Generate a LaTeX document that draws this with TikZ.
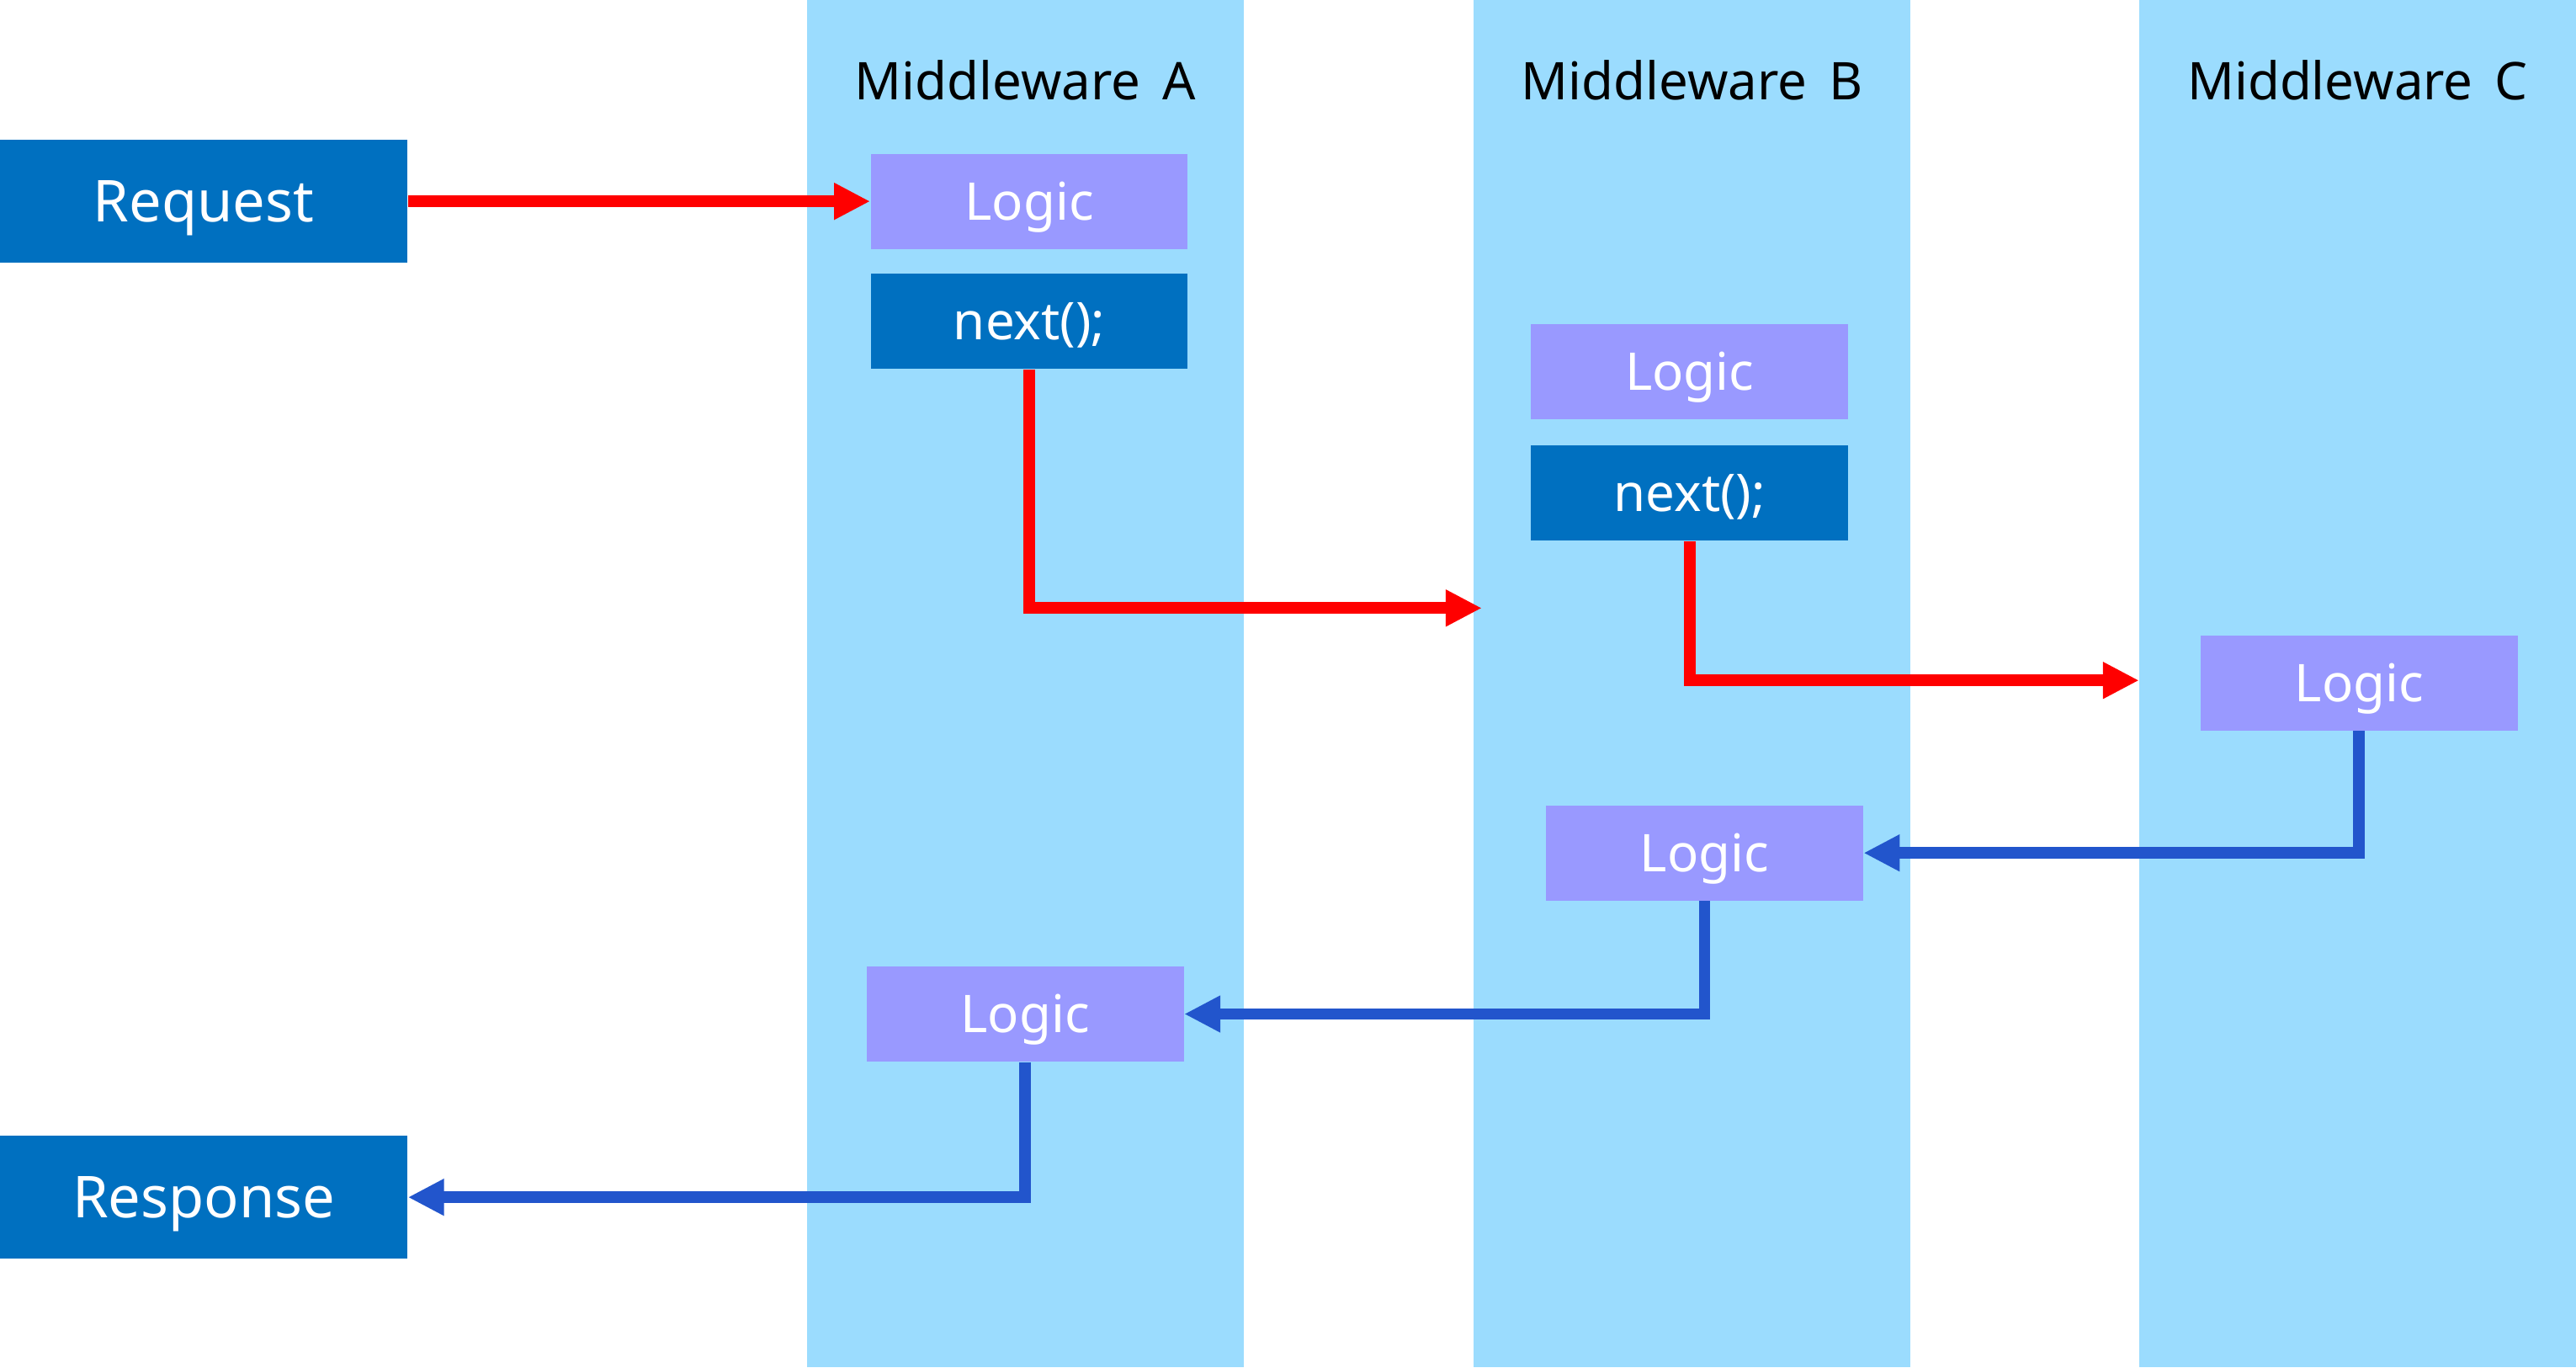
\documentclass[tikz,border=0pt]{standalone}
\usepackage{fontspec}
\setmainfont{Noto Sans}
\usetikzlibrary{arrows.meta}

\definecolor{lane}{HTML}{9BDCFE}
\definecolor{darkbox}{HTML}{0070C0}
\definecolor{logicbox}{HTML}{9999FF}
\definecolor{reqred}{HTML}{FF0000}
\definecolor{resblue}{HTML}{2255CC}

\begin{document}
\begin{tikzpicture}[x=0.02cm,y=-0.02cm,
    io/.style={fill=darkbox,text=white,minimum width=4.96cm,minimum height=1.5cm,
      text height=14.3pt,text depth=0pt,font=\fontsize{20}{24}\selectfont},
    logic/.style={fill=logicbox,text=white,minimum width=3.86cm,minimum height=1.16cm,
      text height=12.9pt,text depth=0pt,font=\fontsize{18}{22}\selectfont},
    call/.style={logic,fill=darkbox},
    title/.style={font=\fontsize{18}{22}\selectfont},
    fwd/.style={draw=reqred,line width=4pt,-{Triangle[length=0.44cm,width=0.42cm]}},
    back/.style={fwd,draw=resblue}]
  \useasboundingbox (0,0) rectangle (1568,832);
  \foreach \x/\n in {491/A,897/B,1302/C} {
    \fill[lane] (\x,0) rectangle ++(266,832);
    \node[title] (title\n) at (\x+133,49) {Middleware\hspace{0.42em}\n};
  }
  \node[io] (req) at (124,122.5) {Request};
  \node[io] (resp) at (124,728.5) {Response};
  \node[logic] (la1) at (626.5,122.5) {Logic};
  \node[call] (na) at (626.5,195.5) {next();};
  \node[logic] (lb1) at (1028.5,226) {Logic};
  \node[call] (nb) at (1028.5,300) {next();};
  \node[logic] (lc) at (1436,415.5) {Logic};
  \node[logic] (lb2) at (1037.5,519) {Logic};
  \node[logic] (la2) at (624,617) {Logic};
  \coordinate (inB) at (902,370);
  \coordinate (inC) at (1302,414);

  \draw[fwd] (req) -- (la1);
  \draw[fwd] (na) |- (inB);
  \draw[fwd] (nb) |- (inC);
  \draw[back] (lc) |- (lb2);
  \draw[back] (lb2) |- (la2);
  \draw[back] (la2) |- (resp);
\end{tikzpicture}
\end{document}
